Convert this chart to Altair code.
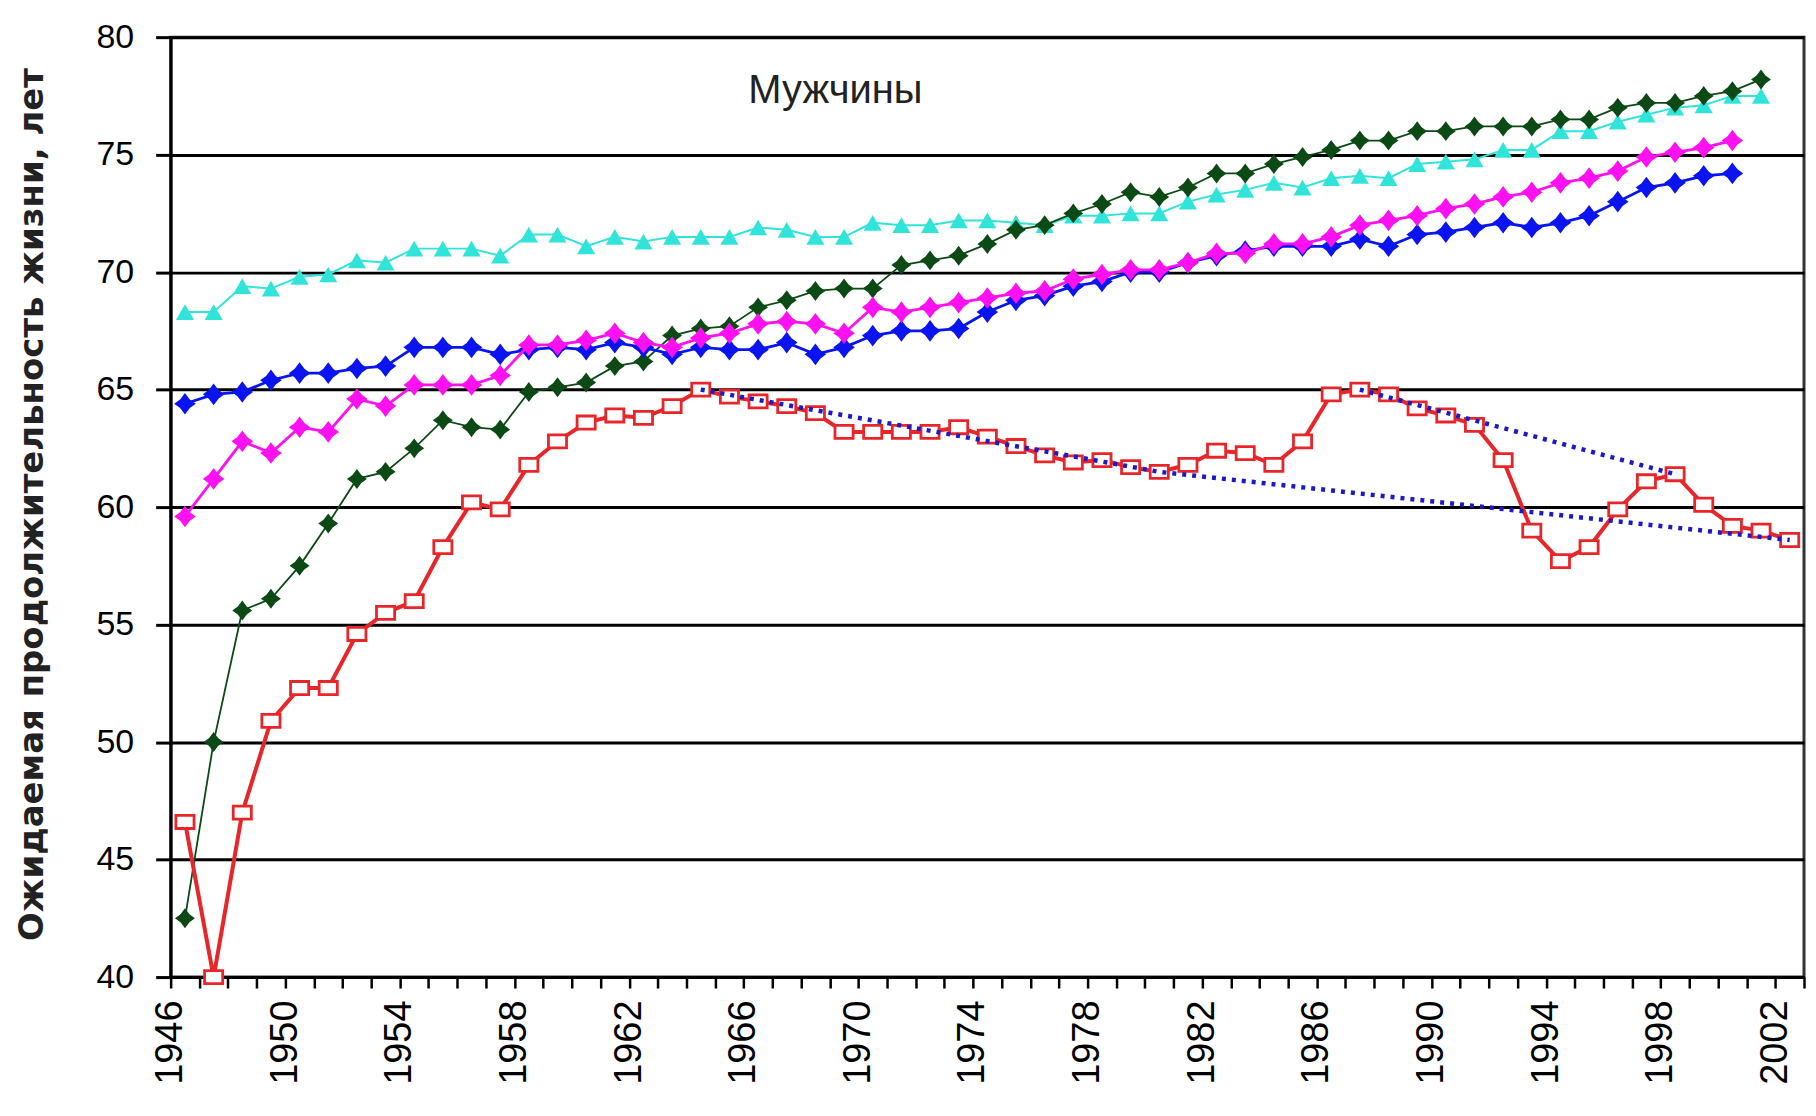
import altair as alt
import pandas as pd

# ---------------- data ----------------
years = list(range(1946, 2003))

# Russia (red, open squares) 1946-2002
russia = [46.6, 40.0, 47.0, 50.9, 52.3, 52.3, 54.6, 55.5, 56.0, 58.3,
          60.2, 59.9, 61.8, 62.8, 63.6, 63.9, 63.8, 64.3, 65.0, 64.7,
          64.5, 64.3, 64.0, 63.2, 63.2, 63.2, 63.2, 63.4, 63.0, 62.6,
          62.2, 61.9, 62.0, 61.7, 61.5, 61.8, 62.4, 62.3, 61.8, 62.8,
          64.8, 65.0, 64.8, 64.2, 63.9, 63.5, 62.0, 59.0, 57.7, 58.3,
          59.9, 61.1, 61.4, 60.1, 59.2, 59.0, 58.6]

# dark green series 1946-2001
green = [42.5, 50.0, 55.6, 56.1, 57.5, 59.3, 61.2, 61.5, 62.5, 63.7,
         63.4, 63.3, 64.9, 65.1, 65.3, 66.0, 66.2, 67.3, 67.6, 67.7,
         68.5, 68.8, 69.2, 69.3, 69.3, 70.3, 70.5, 70.7, 71.2, 71.8,
         72.0, 72.5, 72.9, 73.4, 73.2, 73.6, 74.2, 74.2, 74.6, 74.9,
         75.2, 75.6, 75.6, 76.0, 76.0, 76.2, 76.2, 76.2, 76.5, 76.5,
         77.0, 77.2, 77.2, 77.5, 77.7, 78.2]

# cyan series 1946-2001
cyan = [68.3, 68.3, 69.4, 69.3, 69.8, 69.9, 70.5, 70.4, 71.0, 71.0,
        71.0, 70.7, 71.6, 71.6, 71.1, 71.5, 71.3, 71.5, 71.5, 71.5,
        71.9, 71.8, 71.5, 71.5, 72.1, 72.0, 72.0, 72.2, 72.2, 72.1,
        72.0, 72.4, 72.4, 72.5, 72.5, 73.0, 73.3, 73.5, 73.8, 73.6,
        74.0, 74.1, 74.0, 74.6, 74.7, 74.8, 75.2, 75.2, 76.0, 76.0,
        76.4, 76.7, 77.0, 77.1, 77.5, 77.5]

# blue series 1946-2000
blue = [64.4, 64.8, 64.9, 65.4, 65.7, 65.7, 65.9, 66.0, 66.8, 66.8,
        66.8, 66.5, 66.7, 66.8, 66.7, 67.0, 66.8, 66.5, 66.8, 66.7,
        66.7, 67.0, 66.5, 66.8, 67.3, 67.5, 67.5, 67.6, 68.3, 68.8,
        69.0, 69.4, 69.6, 70.0, 70.0, 70.4, 70.7, 70.9, 71.1, 71.1,
        71.1, 71.4, 71.1, 71.6, 71.7, 71.9, 72.1, 71.9, 72.1, 72.4,
        73.0, 73.6, 73.8, 74.1, 74.2]

# magenta series 1946-2000
magenta = [59.6, 61.2, 62.8, 62.3, 63.4, 63.2, 64.6, 64.3, 65.2, 65.2,
           65.2, 65.6, 66.9, 66.9, 67.1, 67.4, 67.0, 66.8, 67.2, 67.4,
           67.8, 67.9, 67.8, 67.4, 68.5, 68.3, 68.5, 68.7, 68.9, 69.1,
           69.2, 69.7, 69.9, 70.1, 70.1, 70.4, 70.8, 70.8, 71.2, 71.2,
           71.5, 72.0, 72.2, 72.4, 72.7, 72.9, 73.2, 73.4, 73.8, 74.0,
           74.3, 74.9, 75.1, 75.3, 75.6]

# dotted trend lines over the Russian series
trend_low_years = [1964, 1980, 2002]
trend_low_values = [65.0, 61.5, 58.6]
trend_high_years = [1987, 1998]
trend_high_values = [65.0, 61.4]

y_ticks = [40, 45, 50, 55, 60, 65, 70, 75, 80]
y_title = "Ожидаемая продолжительность жизни, лет"
panel_title = "Мужчины"

# ---------------- chart ----------------
def frame(vals, yrs=None):
    yrs = years[:len(vals)] if yrs is None else yrs
    return pd.DataFrame({"year": yrs, "value": vals})

tick_values = [1945.5 + i for i in range(58)]

x_enc = alt.X(
    "year:Q",
    scale=alt.Scale(domain=[1945.5, 2002.5], nice=False, zero=False),
    axis=alt.Axis(
        values=tick_values,
        labelExpr="((datum.value - 1945.5) % 4 == 0) ? toString(datum.value + 0.5) : ''",
        labelAngle=-90, labelFontSize=38, labelFont="Liberation Sans",
        labelColor="black", labelPadding=12, labelOverlap=False, labelFlush=False,
        tickSize=11, tickWidth=2.5, tickColor="black",
        domainColor="black", domainWidth=3, grid=False, title=None,
    ),
)
y_enc = alt.Y(
    "value:Q",
    scale=alt.Scale(domain=[40, 80], nice=False, zero=False),
    axis=alt.Axis(
        values=y_ticks, format="d",
        labelFontSize=34, labelFont="Liberation Sans", labelColor="black",
        labelPadding=22,
        tickSize=15, tickWidth=3, tickColor="black",
        domainColor="black", domainWidth=3,
        grid=True, gridColor="black", gridWidth=3, gridOpacity=1,
        title=y_title, titleFont="DejaVu Sans", titleFontWeight="bold",
        titleFontSize=34, titleColor="#222",
        titleX=-138, titleY=468, titleAngle=-90,
        titleAlign="center", titleBaseline="middle",
    ),
)

STAR = "M-1,0L-0.45,-0.4L0,-1L0.45,-0.4L1,0L0.45,0.4L0,1L-0.45,0.4Z"
RECT = "M-1,-0.72H1V0.72H-1Z"


def series(vals, color, shape, size, line_w, fill=None, stroke_w=0):
    base = alt.Chart(frame(vals)).encode(x=x_enc, y=y_enc)
    line = base.mark_line(color=color, strokeWidth=line_w)
    if fill is None:
        pts = base.mark_point(shape=shape, size=size, filled=True, color=color, opacity=1)
    else:
        pts = base.mark_point(shape=shape, size=size, filled=True, fill=fill,
                              stroke=color, strokeWidth=stroke_w, opacity=1)
    return line + pts


blue_layer = series(blue, "#0A14F0", STAR, 470, 2.8)
magenta_layer = series(magenta, "#FF10F0", STAR, 470, 2.8)
green_layer = series(green, "#0B4A14", STAR, 400, 1.8)
cyan_layer = series(cyan, "#30E4DA", "triangle-up", 330, 2.0)
red_layer = series(russia, "#E8262A", RECT, 330, 4, fill="white", stroke_w=2.8)

trend_low = alt.Chart(frame(trend_low_values, trend_low_years)).mark_line(
    color="#1A1AC8", strokeWidth=4.5, strokeDash=[4, 6], strokeCap="butt"
).encode(x=x_enc, y=y_enc)
trend_high = alt.Chart(frame(trend_high_values, trend_high_years)).mark_line(
    color="#1A1AC8", strokeWidth=4.5, strokeDash=[4, 6], strokeCap="butt"
).encode(x=x_enc, y=y_enc)

label = alt.Chart(frame([77.7], [1968.7])).mark_text(
    text=panel_title, font="Liberation Sans", fontSize=40, color="#222",
    align="center", baseline="middle"
).encode(x=x_enc, y=y_enc)

chart = alt.layer(
    cyan_layer, green_layer, blue_layer, magenta_layer, red_layer,
    trend_low, trend_high, label
).properties(
    width=1637, height=942,
    autosize=alt.AutoSizeParams(type="none"),
    padding={"left": 163, "top": 28, "right": 4, "bottom": 120},
    background="white",
).configure_view(stroke="#333", strokeWidth=3)

chart.save("out.html", embed_options={"renderer": "svg", "actions": False})
